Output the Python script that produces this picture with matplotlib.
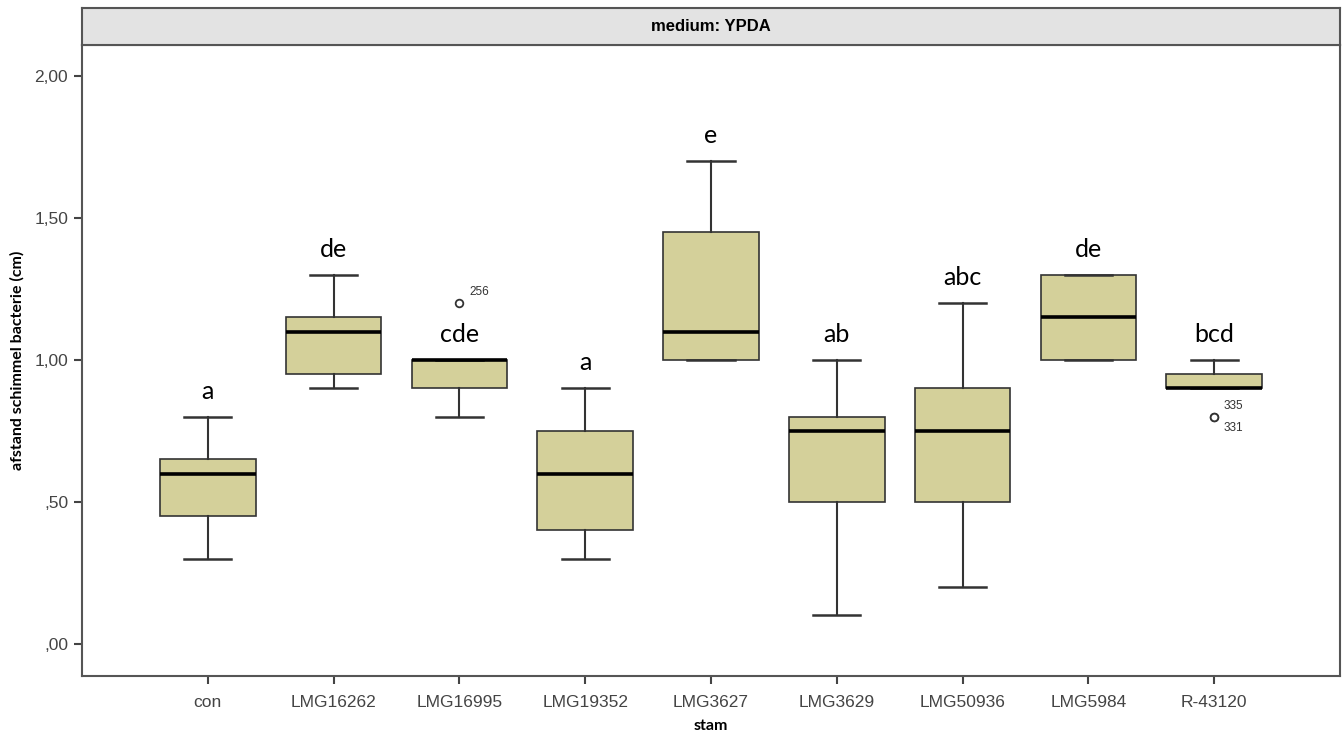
import matplotlib.pyplot as plt
from matplotlib.ticker import FuncFormatter

# ---- data ----
strains = ["con", "LMG16262", "LMG16995", "LMG19352", "LMG3627",
           "LMG3629", "LMG50936", "LMG5984", "R-43120"]
whislo = [0.30, 0.90, 0.80, 0.30, 1.00, 0.10, 0.20, 1.00, 0.90]
q1     = [0.45, 0.95, 0.90, 0.40, 1.00, 0.50, 0.50, 1.00, 0.90]
med    = [0.60, 1.10, 1.00, 0.60, 1.10, 0.75, 0.75, 1.15, 0.90]
q3     = [0.65, 1.15, 1.00, 0.75, 1.45, 0.80, 0.90, 1.30, 0.95]
whishi = [0.80, 1.30, 1.00, 0.90, 1.70, 1.00, 1.20, 1.30, 1.00]
fliers = [[], [], [1.20], [], [], [], [], [], [0.80, 0.80]]
flier_ids = [[], [], ["256"], [], [], [], [], [], ["335", "331"]]
letters = ["a", "de", "cde", "a", "e", "ab", "abc", "de", "bcd"]

BOX_FILL = "#d4d09a"
EDGE = "#333333"

plt.rcParams["font.family"] = ["Liberation Sans", "DejaVu Sans"]

fig = plt.figure(figsize=(13.44, 7.35), dpi=100)
L, B, W, H = 0.061, 0.0803, 0.936, 0.8585
ax = fig.add_axes([L, B, W, H])

stats = [dict(med=m, q1=a, q3=b, whislo=lo, whishi=hi, fliers=f)
         for m, a, b, lo, hi, f in zip(med, q1, q3, whislo, whishi, fliers)]
pos = list(range(len(strains)))
ax.bxp(stats, positions=pos, widths=0.76, capwidths=0.375, patch_artist=True,
       boxprops=dict(facecolor=BOX_FILL, edgecolor=EDGE, linewidth=1.2),
       whiskerprops=dict(color=EDGE, linewidth=1.5),
       capprops=dict(color=EDGE, linewidth=1.8),
       medianprops=dict(color="black", linewidth=2.6),
       flierprops=dict(marker="o", markersize=5.5, markerfacecolor="white",
                       markeredgecolor=EDGE, markeredgewidth=1.3))

# outlier case numbers
for i, (fl, ids) in enumerate(zip(fliers, flier_ids)):
    for k, (v, lab) in enumerate(zip(fl, ids)):
        dy = 8 if k == 0 else -8
        ax.annotate(lab, (pos[i], v), xytext=(7, dy), textcoords="offset points",
                    fontsize=8.5, color="#333333", ha="left", va="center")

# significance letters
for i, let in enumerate(letters):
    ax.text(pos[i], whishi[i] + 0.09, let, ha="center", va="center",
            fontsize=18, family=["Lato", "DejaVu Sans"], color="black")

ax.set_xlim(-1, 9)
ax.set_ylim(-0.113, 2.109)
ax.set_yticks([0.0, 0.5, 1.0, 1.5, 2.0])
ax.yaxis.set_major_formatter(FuncFormatter(
    lambda v, p: ("%.2f" % v).replace(".", ",").lstrip("0") if v < 1 else ("%.2f" % v).replace(".", ",")))
ax.set_xticks(pos)
ax.set_xticklabels(strains)
ax.tick_params(axis="both", direction="out", length=6, width=1.5, color="#444444",
               labelsize=12.5, labelcolor="#444444", pad=4)
ax.tick_params(axis="x", pad=8)
for s in ax.spines.values():
    s.set_color("#555555")
    s.set_linewidth(1.5)

ax.set_ylabel("afstand schimmel bacterie (cm)", fontsize=11.5, fontweight="bold",
              family=["Lato", "DejaVu Sans"], labelpad=7)
ax.set_xlabel("stam", fontsize=11.5, fontweight="bold",
              family=["Lato", "DejaVu Sans"], labelpad=6)

# panel strip on top
strip = fig.add_axes([L, B + H, W, 0.0503])
strip.set_facecolor("#e3e3e3")
strip.set_xticks([])
strip.set_yticks([])
for s in strip.spines.values():
    s.set_color("#555555")
    s.set_linewidth(1.5)
strip.text(0.5, 0.5, "medium: YPDA", ha="center", va="center",
           fontsize=12, fontweight="bold", transform=strip.transAxes)

fig.savefig("out.png", dpi=100)
